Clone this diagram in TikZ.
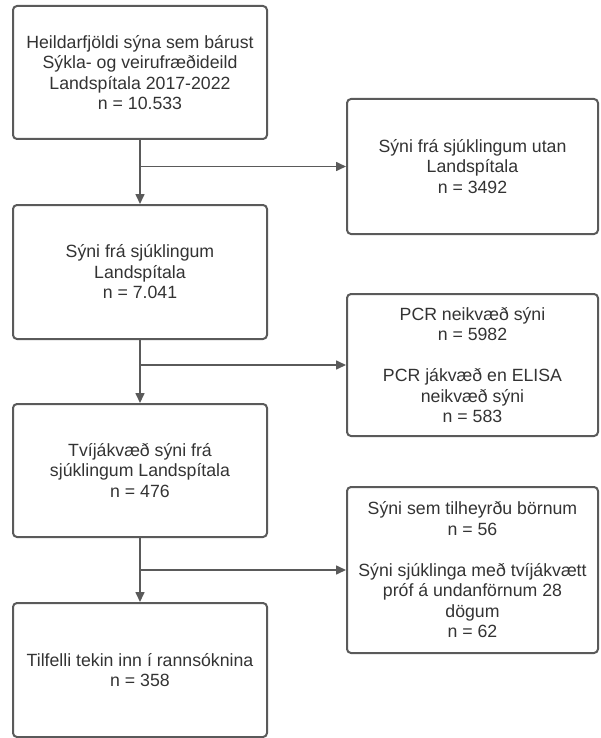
\documentclass[tikz,border=0pt]{standalone}
\usepackage{fontspec}
\setmainfont{Liberation Sans}
\usetikzlibrary{arrows.meta}
\definecolor{linegray}{HTML}{5A5A5A}
\definecolor{textgray}{HTML}{333333}
\begin{document}
\begin{tikzpicture}[x=1pt,y=-1pt,
  box/.style={draw=linegray, line width=2pt, rounded corners=4pt, align=center,
    text=textgray, font=\fontsize{17.7}{20.5}\selectfont, inner sep=0pt},
  lbox/.style={box, minimum width=254pt},
  rbox/.style={box, minimum width=251pt},
  arr/.style={draw=linegray, line width=1.6pt, -{Triangle[length=10pt,width=9pt]}}
]
\useasboundingbox (0,0) rectangle (600,738);
\node[lbox, minimum height=133pt] (b1) at (140,72.5) {Heildarfjöldi sýna sem bárust\\Sýkla- og veirufræðideild\\Landspítala 2017-2022\\n = 10.533};
\node[lbox, minimum height=134pt] (b2) at (140,272) {Sýni frá sjúklingum\\Landspítala\\n = 7.041};
\node[lbox, minimum height=133pt] (b3) at (140,470.5) {Tvíjákvæð sýni frá\\sjúklingum Landspítala\\n = 476};
\node[lbox, minimum height=134pt] (b4) at (140,670) {Tilfelli tekin inn í rannsóknina\\n = 358};
\node[rbox, minimum height=135pt] (r1) at (472.5,166.5) {Sýni frá sjúklingum utan\\Landspítala\\n = 3492};
\node[rbox, minimum height=142pt] (r2) at (472.5,365) {PCR neikvæð sýni\\n = 5982\\[20.5pt]PCR jákvæð en ELISA\\neikvæð sýni\\n = 583};
\node[rbox, minimum height=166pt] (r3) at (472.5,570) {Sýni sem tilheyrðu börnum\\n = 56\\[20.5pt]Sýni sjúklinga með tvíjákvætt\\próf á undanförnum 28\\dögum\\n = 62};
\coordinate (j1) at (b1.south |- r1.west);
\coordinate (j2) at (b2.south |- r2.west);
\coordinate (j3) at (b3.south |- r3.west);
\draw[arr] (b1.south) -- (b2.north);
\draw[arr] (b2.south) -- (b3.north);
\draw[arr] (b3.south) -- (b4.north);
\draw[arr] (j1) -- (r1.west);
\draw[arr] (j2) -- (r2.west);
\draw[arr] (j3) -- (r3.west);
\end{tikzpicture}
\end{document}
